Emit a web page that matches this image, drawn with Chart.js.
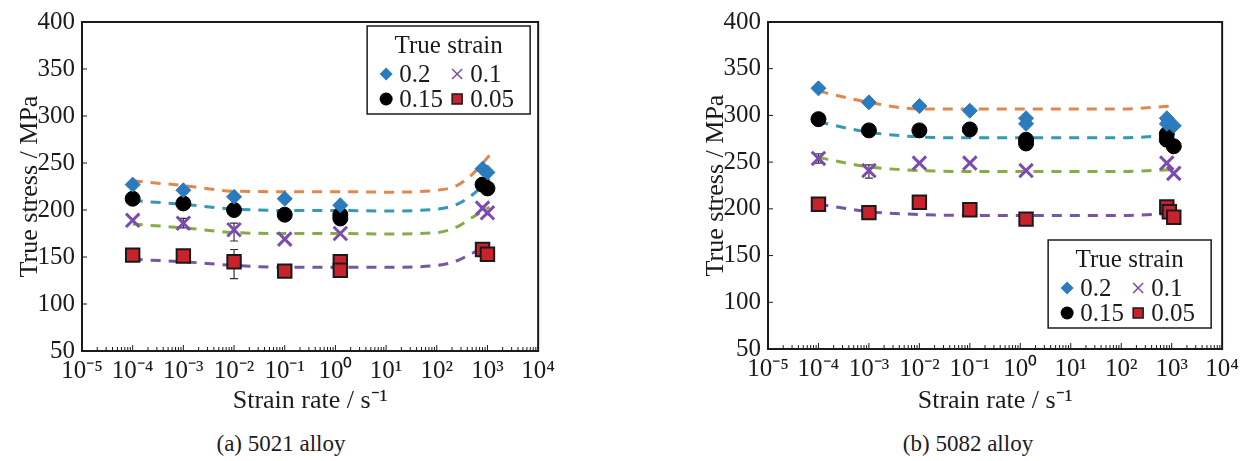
<!DOCTYPE html>
<html lang="en">
<head>
<meta charset="UTF-8">
<title>True stress vs strain rate</title>
<script src="https://cdn.jsdelivr.net/npm/chart.js"></script>
<style>
    body {
        margin: 0;
        width: 1244px;
        height: 461px;
        position: relative;
        overflow: hidden;
        background: #fff;
        color: #1d1a1b;
        font-family: "Liberation Serif", serif;
    }
    .panel { position: absolute; top: 0; }
    .caption {
        position: absolute;
        top: 431px;
        width: 300px;
        text-align: center;
        font-size: 23px;
    }
</style>
</head>
<body>
<div class="panel" style="left:0"><canvas id="chartA" width="560" height="420"></canvas></div>
<div class="panel" style="left:686px"><canvas id="chartB" width="558" height="420"></canvas></div>
<div class="caption" style="left:131px">(a) 5021 alloy</div>
<div class="caption" style="left:818px">(b) 5082 alloy</div>
<script>
// ---- data ----
const decades = [-5, -4, -3, -2, -1, 0, 1, 2, 3, 4];
const yTicks = [50, 100, 150, 200, 250, 300, 350, 400];
const strains = ['0.2', '0.15', '0.1', '0.05'];
const legendTitle = 'True strain';

// (a) 5021 alloy
const rate02A = [1e-4, 1e-3, 1e-2, 1e-1, 1.25, 800, 1000];
const stress02A = [227, 221, 214, 212, 205, 244, 240];
const rate015A = [1e-4, 1e-3, 1e-2, 1e-1, 1.25, 1.25, 800, 1000];
const stress015A = [212, 207, 200, 195, 195, 191, 227, 223];
const rate01A = [1e-4, 1e-3, 1e-2, 1e-1, 1.25, 800, 1000];
const stress01A = [189, 186, 179, 169, 175, 202, 197];
const rate005A = [1e-4, 1e-3, 1e-2, 1e-1, 1.25, 1.25, 800, 1000];
const stress005A = [152, 151, 145, 135, 145, 136, 158, 153];

const fitRateA = [1e-4, 1e-3, 1e-2, 1e-1, 1, 10, 100, 250, 500, 1100];
const fit02A = [231, 226, 220, 219.5, 219.5, 219, 221, 226, 238, 258];
const fit015A = [210, 206, 201, 199.5, 199.5, 199, 201, 206, 216, 233];
const fit01A = [185, 181, 176, 175, 175, 174.5, 176, 182, 192, 203];
const fit005A = [147.5, 145, 141, 139, 139, 139, 141, 146, 154, 163];

const errRateA = [1e-2, 1e-2, 1e-3, 1e-3];
const errLowA = [127, 167, 147, 181];
const errHighA = [158, 186, 156, 191];

// (b) 5082 alloy
const rate02B = [1e-4, 1e-3, 1e-2, 1e-1, 1.3, 1.3, 800, 800, 1100];
const stress02B = [329, 314, 310, 305, 297, 291, 297, 291, 289];
const rate015B = [1e-4, 1e-3, 1e-2, 1e-1, 1.3, 1.3, 800, 800, 1100];
const stress015B = [296, 284, 284, 285, 274, 270, 280, 274, 267];
const rate01B = [1e-4, 1e-3, 1e-2, 1e-1, 1.3, 800, 1100];
const stress01B = [254, 241, 249, 249, 241, 249, 238];
const rate005B = [1e-4, 1e-3, 1e-2, 1e-1, 1.3, 800, 900, 1100];
const stress005B = [205, 196, 207, 199, 189, 202, 197, 191];

const fitRateB = [1e-4, 1e-3, 1e-2, 1e-1, 1, 10, 100, 1000];
const fit02B = [326, 314, 307, 307, 307, 307, 307, 310];
const fit015B = [293, 282, 277, 276, 276, 276, 276, 279];
const fit01B = [255, 245, 241, 240, 240, 240, 240, 242];
const fit005B = [205, 197, 194, 193, 193, 193, 193, 195];

const errRateB = [1e-3, 1e-4, 1e-3, 1e-4];
const errLowB = [279, 249, 233, 200];
const errHighB = [290, 259, 247, 209];

// ---- styling ----
const INK = '#1d1a1b';
const FONT = 'Liberation Serif, serif';
const markerStyle = [
    { pointStyle: 'rectRot', radius: 7.5, fill: '#2b7bbf', border: '#2b7bbf', width: 1 },
    { pointStyle: 'circle', radius: 7.5, fill: '#000', border: '#000', width: 1 },
    { pointStyle: 'crossRot', radius: 9.5, fill: '#7b4cae', border: '#7b4cae', width: 3 },
    { pointStyle: 'rect', radius: 9.5, fill: '#c8232c', border: '#1a1a1a', width: 2 }
];
const fitColors = ['#e2864a', '#3399b5', '#86ac46', '#7455a6'];

const supDigits = { '-': '⁻', '0': '⁰', '1': '¹', '2': '²', '3': '³', '4': '⁴', '5': '⁵', '6': '⁶', '7': '⁷', '8': '⁸', '9': '⁹' };
function powLabel(e) {
    return '10' + String(e).split('').map(c => supDigits[c]).join('');
}
function isDecade(v) {
    const l = Math.log10(v);
    return Math.abs(l - Math.round(l)) < 1e-6;
}
function pairs(xs, ys) {
    return xs.map((x, i) => ({ x: x, y: ys[i] }));
}

// frame + ticks pointing inwards
const frame = {
    id: 'frame',
    afterDatasetsDraw(chart) {
        const { ctx, chartArea: a, scales: { x, y } } = chart;
        ctx.save();
        ctx.strokeStyle = INK;
        ctx.lineWidth = 1;
        ctx.beginPath();
        x.ticks.forEach(t => {
            const px = x.getPixelForValue(t.value);
            const len = isDecade(t.value) ? 6 : 4;
            ctx.moveTo(px, a.bottom);
            ctx.lineTo(px, a.bottom - len);
        });
        y.ticks.forEach(t => {
            const py = y.getPixelForValue(t.value);
            ctx.moveTo(a.left, py);
            ctx.lineTo(a.left + 5, py);
        });
        ctx.stroke();
        ctx.lineWidth = 2;
        ctx.strokeRect(a.left, a.top, a.right - a.left, a.bottom - a.top);
        ctx.restore();
    }
};

// error bars (drawn below the markers)
const errorBars = {
    id: 'errorBars',
    beforeDatasetsDraw(chart, args, opts) {
        const { ctx, scales: { x, y } } = chart;
        ctx.save();
        ctx.strokeStyle = '#333';
        ctx.lineWidth = 1.2;
        ctx.beginPath();
        opts.rate.forEach((r, i) => {
            const px = x.getPixelForValue(r);
            const lo = y.getPixelForValue(opts.low[i]);
            const hi = y.getPixelForValue(opts.high[i]);
            ctx.moveTo(px, lo); ctx.lineTo(px, hi);
            ctx.moveTo(px - 4, lo); ctx.lineTo(px + 4, lo);
            ctx.moveTo(px - 4, hi); ctx.lineTo(px + 4, hi);
        });
        ctx.stroke();
        ctx.restore();
    }
};

function legendMarker(ctx, kind, cx, cy) {
    ctx.save();
    if (kind === 0) {
        ctx.fillStyle = markerStyle[0].fill;
        ctx.beginPath();
        ctx.moveTo(cx, cy - 6.5); ctx.lineTo(cx + 6.5, cy); ctx.lineTo(cx, cy + 6.5); ctx.lineTo(cx - 6.5, cy);
        ctx.closePath(); ctx.fill();
    } else if (kind === 1) {
        ctx.fillStyle = '#000';
        ctx.beginPath(); ctx.arc(cx, cy, 6.5, 0, Math.PI * 2); ctx.fill();
    } else if (kind === 2) {
        ctx.strokeStyle = markerStyle[2].border;
        ctx.lineWidth = 1.6;
        ctx.beginPath();
        ctx.moveTo(cx - 5, cy - 5); ctx.lineTo(cx + 5, cy + 5);
        ctx.moveTo(cx + 5, cy - 5); ctx.lineTo(cx - 5, cy + 5);
        ctx.stroke();
    } else {
        ctx.fillStyle = markerStyle[3].fill;
        ctx.strokeStyle = '#1a1a1a';
        ctx.lineWidth = 1.5;
        ctx.fillRect(cx - 5, cy - 5, 10, 10);
        ctx.strokeRect(cx - 5, cy - 5, 10, 10);
    }
    ctx.restore();
}

// boxed legend, 2 x 2 entries under a title
const boxLegend = {
    id: 'boxLegend',
    afterDraw(chart, args, opts) {
        const { ctx, chartArea: a } = chart;
        const w = 163, h = 88;
        const left = a.right - opts.right - w;
        const top = opts.top != null ? a.top + opts.top : a.bottom - opts.bottom - h;
        ctx.save();
        ctx.fillStyle = '#fff';
        ctx.fillRect(left, top, w, h);
        ctx.strokeStyle = INK;
        ctx.lineWidth = 1.5;
        ctx.strokeRect(left, top, w, h);
        ctx.fillStyle = INK;
        ctx.font = '25px ' + FONT;
        ctx.textBaseline = 'middle';
        ctx.textAlign = 'center';
        ctx.fillText(legendTitle, left + w / 2, top + 20);
        ctx.textAlign = 'left';
        // order in the box: 0.2, 0.1 / 0.15, 0.05
        const cells = [[0, 0, 0], [2, 1, 0], [1, 0, 1], [3, 1, 1]];
        cells.forEach(([k, col, row]) => {
            const mx = left + 19 + col * 71;
            const my = top + 48 + row * 25;
            legendMarker(ctx, k, mx, my);
            ctx.fillStyle = INK;
            ctx.fillText(strains[k], mx + 13, my + 1);
        });
        ctx.restore();
    }
};

function makeChart(id, series, fitRate, fits, err, legendPos, padTop, xHeight) {
    const datasets = [];
    series.forEach(([xs, ys], k) => {
        const m = markerStyle[k];
        datasets.push({
            label: strains[k],
            data: pairs(xs, ys),
            pointStyle: m.pointStyle,
            pointRadius: m.radius,
            pointBackgroundColor: m.fill,
            pointBorderColor: m.border,
            pointBorderWidth: m.width,
            showLine: false,
            order: 1
        });
    });
    fits.forEach((ys, k) => {
        datasets.push({
            label: 'fit ' + strains[k],
            data: pairs(fitRate, ys),
            showLine: true,
            borderColor: fitColors[k],
            borderWidth: 3,
            borderDash: [10, 8],
            pointRadius: 0,
            cubicInterpolationMode: 'monotone',
            order: 2
        });
    });

    return new Chart(document.getElementById(id), {
        type: 'scatter',
        data: { datasets: datasets },
        options: {
            responsive: false,
            animation: false,
            layout: { padding: { top: padTop, right: 14, left: 0, bottom: 0 } },
            plugins: {
                legend: { display: false },
                tooltip: { enabled: false },
                errorBars: err,
                boxLegend: legendPos
            },
            scales: {
                x: {
                    type: 'logarithmic',
                    min: 1e-5,
                    max: 1e4,
                    afterBuildTicks: s => {
                        const t = [];
                        decades.forEach(e => {
                            for (let m = 1; m <= 9; m++) {
                                if (e === decades[decades.length - 1] && m > 1) break;
                                t.push({ value: m * Math.pow(10, e) });
                            }
                        });
                        s.ticks = t;
                    },
                    afterFit: s => { s.height = xHeight; },
                    grid: { display: false, drawTicks: false },
                    border: { display: false },
                    ticks: {
                        autoSkip: false,
                        maxRotation: 0,
                        padding: 5,
                        color: INK,
                        font: { family: FONT, size: 25 },
                        callback: v => isDecade(v) ? powLabel(Math.round(Math.log10(v))) : ''
                    },
                    title: {
                        display: true,
                        text: 'Strain rate / s⁻¹',
                        color: INK,
                        font: { family: FONT, size: 26 },
                        padding: { top: 0, bottom: 3 }
                    }
                },
                y: {
                    min: 50,
                    max: 400,
                    afterBuildTicks: s => { s.ticks = yTicks.map(v => ({ value: v })); },
                    afterFit: s => { s.width = 82; },
                    grid: { display: false, drawTicks: false },
                    border: { display: false },
                    ticks: {
                        padding: 7,
                        color: INK,
                        font: { family: FONT, size: 25 }
                    },
                    title: {
                        display: true,
                        text: 'True stress / MPa',
                        color: INK,
                        font: { family: FONT, size: 26 },
                        padding: { top: 15, bottom: 0 }
                    }
                }
            }
        },
        plugins: [errorBars, frame, boxLegend]
    });
}

makeChart('chartA',
    [[rate02A, stress02A], [rate015A, stress015A], [rate01A, stress01A], [rate005A, stress005A]],
    fitRateA, [fit02A, fit015A, fit01A, fit005A],
    { rate: errRateA, low: errLowA, high: errHighA },
    { right: 8, top: 4 }, 13, 69);

makeChart('chartB',
    [[rate02B, stress02B], [rate015B, stress015B], [rate01B, stress01B], [rate005B, stress005B]],
    fitRateB, [fit02B, fit015B, fit01B, fit005B],
    { rate: errRateB, low: errLowB, high: errHighB },
    { right: 11, bottom: 21 }, 15, 71);
</script>
</body>
</html>
